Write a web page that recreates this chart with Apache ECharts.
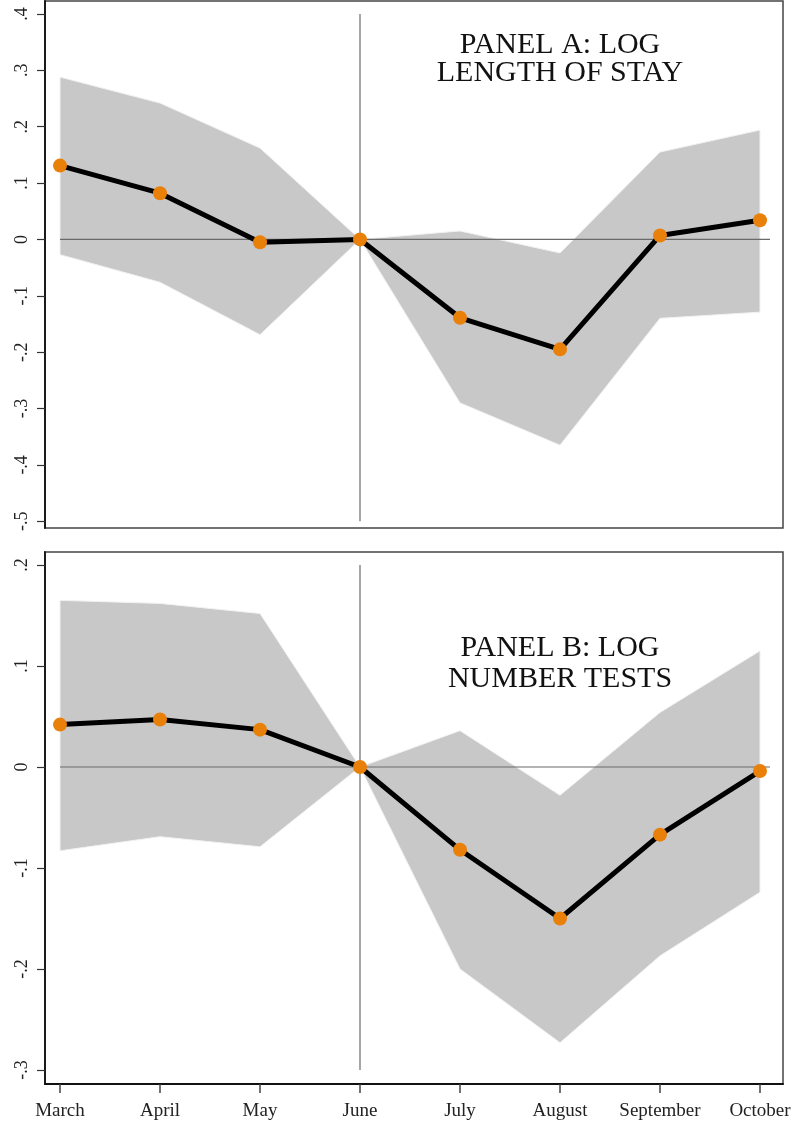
<!DOCTYPE html>
<html>
<head>
<meta charset="utf-8">
<script src="https://cdn.jsdelivr.net/npm/echarts@6/dist/echarts.min.js"></script>
<style>
  html, body { margin: 0; padding: 0; background: #fff; }
  #chart { width: 794px; height: 1127px; }
</style>
</head>
<body>
<div id="chart"></div>
<script>
// months on the x axis (index 0..7)
var months = ['March', 'April', 'May', 'June', 'July', 'August', 'September', 'October'];
var monthTicks = [0, 1, 2, 3, 4, 5, 6, 7];

// Panel A: log length of stay
var estA   = [0.131, 0.082, -0.005, 0, -0.139, -0.195, 0.007, 0.034];
var upperA = [0.288, 0.242, 0.162, 0, 0.015, -0.024, 0.155, 0.194];
var lowerA = [-0.027, -0.076, -0.169, 0, -0.290, -0.365, -0.140, -0.129];
var yTicksA = [-0.5, -0.4, -0.3, -0.2, -0.1, 0, 0.1, 0.2, 0.3, 0.4];

// Panel B: log number tests
var estB   = [0.042, 0.047, 0.037, 0, -0.082, -0.150, -0.067, -0.004];
var upperB = [0.165, 0.162, 0.152, 0, 0.036, -0.028, 0.054, 0.115];
var lowerB = [-0.083, -0.069, -0.079, 0, -0.200, -0.273, -0.187, -0.124];
var yTicksB = [-0.3, -0.2, -0.1, 0, 0.1, 0.2];

var serif = '"Liberation Serif", "DejaVu Serif", serif';
var orange = '#e8800a';

function fmtTick(v) {
    if (Math.abs(v) < 1e-9) return '0';
    return v.toFixed(1).replace('0.', '.');
}

function bandSeries(idx, lower, upper) {
    return {
        type: 'custom',
        xAxisIndex: idx,
        yAxisIndex: idx,
        z: 1,
        silent: true,
        data: monthTicks.map(function (m, i) { return [m, lower[i], upper[i]]; }),
        encode: {x: 0, y: [1, 2]},
        renderItem: function (params, api) {
            if (params.dataIndex !== 0) return null;
            var pts = [];
            for (var i = 0; i < monthTicks.length; i++) {
                pts.push(api.coord([monthTicks[i], upper[i]]));
            }
            for (var j = monthTicks.length - 1; j >= 0; j--) {
                pts.push(api.coord([monthTicks[j], lower[j]]));
            }
            return {
                type: 'polygon',
                shape: {points: pts},
                style: {fill: '#c8c8c8', stroke: '#f2f2f2', lineWidth: 1}
            };
        }
    };
}

function refLine(idx, data) {
    return {
        type: 'line',
        xAxisIndex: idx,
        yAxisIndex: idx,
        z: 2,
        silent: true,
        symbol: 'none',
        data: data,
        lineStyle: {color: '#6a6a6a', width: 1.2}
    };
}

function estSeries(idx, est) {
    return {
        type: 'line',
        xAxisIndex: idx,
        yAxisIndex: idx,
        z: 3,
        data: monthTicks.map(function (m, i) { return [m, est[i]]; }),
        symbol: 'circle',
        symbolSize: 14,
        itemStyle: {color: orange, borderWidth: 0},
        lineStyle: {color: '#000', width: 5}
    };
}

function yAxis(idx, min, max, ticks) {
    return {
        type: 'value',
        gridIndex: idx,
        min: min,
        max: max,
        splitLine: {show: false},
        axisLine: {show: true, onZero: false, lineStyle: {color: '#111', width: 1.8}},
        axisTick: {show: true, length: 8, customValues: ticks, lineStyle: {color: '#333', width: 1.2}},
        axisLabel: {
            show: true,
            customValues: ticks,
            rotate: 90,
            margin: 14,
            fontFamily: serif,
            fontSize: 18,
            color: '#222',
            formatter: fmtTick
        }
    };
}

var chart = echarts.init(document.getElementById('chart'), null, {renderer: 'canvas'});
chart.setOption({
    animation: false,
    backgroundColor: '#fff',
    title: [
        {
            text: 'PANEL A: LOG\nLENGTH OF STAY',
            left: 560,
            top: 31,
            padding: 0,
            textAlign: 'center',
            textStyle: {fontFamily: serif, fontSize: 30, fontWeight: 'normal', color: '#111', lineHeight: 28}
        },
        {
            text: 'PANEL B: LOG\nNUMBER TESTS',
            left: 560,
            top: 633,
            padding: 0,
            textAlign: 'center',
            textStyle: {fontFamily: serif, fontSize: 30, fontWeight: 'normal', color: '#111', lineHeight: 31}
        }
    ],
    grid: [
        {left: 45, top: 1, width: 738, height: 527, show: true, borderColor: '#444', borderWidth: 1.5, backgroundColor: 'transparent'},
        {left: 45, top: 552, width: 738, height: 532, show: true, borderColor: '#444', borderWidth: 1.5, backgroundColor: 'transparent'}
    ],
    xAxis: [
        {
            type: 'value', gridIndex: 0, min: -0.15, max: 7.23,
            splitLine: {show: false},
            axisLine: {show: false},
            axisTick: {show: false},
            axisLabel: {show: false}
        },
        {
            type: 'value', gridIndex: 1, min: -0.15, max: 7.23,
            splitLine: {show: false},
            axisLine: {show: true, onZero: false, lineStyle: {color: '#111', width: 1.8}},
            axisTick: {show: true, length: 9, customValues: monthTicks, lineStyle: {color: '#444', width: 1.5}},
            axisLabel: {
                show: true,
                customValues: monthTicks,
                margin: 18,
                fontFamily: serif,
                fontSize: 19,
                color: '#222',
                formatter: function (v) { return months[Math.round(v)]; }
            }
        }
    ],
    yAxis: [
        yAxis(0, -0.512, 0.423, yTicksA),
        yAxis(1, -0.3139, 0.2129, yTicksB)
    ],
    series: [
        bandSeries(0, lowerA, upperA),
        refLine(0, [[0, 0], [7.1, 0]]),
        refLine(0, [[3, 0.4], [3, -0.5]]),
        estSeries(0, estA),
        bandSeries(1, lowerB, upperB),
        refLine(1, [[0, 0], [7.1, 0]]),
        refLine(1, [[3, 0.2], [3, -0.3]]),
        estSeries(1, estB)
    ]
});
</script>
</body>
</html>
